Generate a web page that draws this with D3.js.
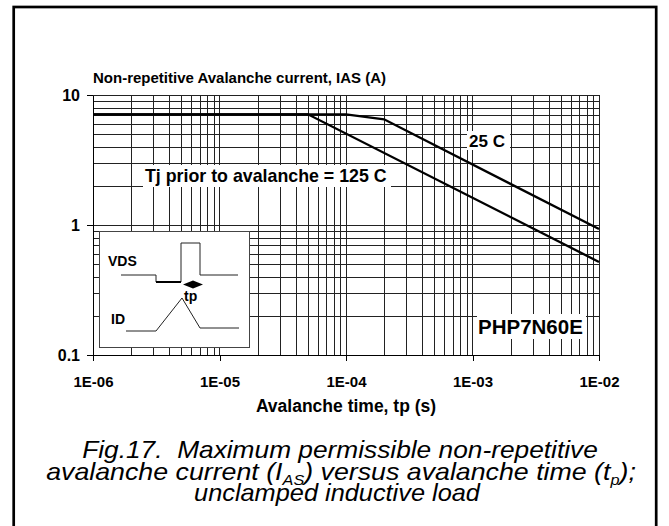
<!DOCTYPE html>
<html>
<head>
<meta charset="utf-8">
<script src="https://cdn.jsdelivr.net/npm/d3@7"></script>
<style>
  body { margin: 0; background: #fff; }
  text { font-family: "Liberation Sans", Arial, sans-serif; fill: #000; }
  .bold { font-weight: bold; }
  .caption { font-style: italic; font-size: 23px; }
</style>
</head>
<body>
<script>
/* avalanche current vs avalanche time */

// axis ticks
const tpTicks = [1e-6, 1e-5, 1e-4, 1e-3, 1e-2];
const tpTickLabels = ['1E-06', '1E-05', '1E-04', '1E-03', '1E-02'];
const iasTicks = [0.1, 1, 10];
const iasTickLabels = ['0.1', '1', '10'];

// curves (tp in s, IAS in A)
const tp25 = [1e-6, 1e-4, 2e-4, 1e-2];
const ias25 = [7.1, 7.1, 6.5, 0.93];
const tp125 = [1e-6, 5e-5, 1e-2];
const ias125 = [7.1, 7.1, 0.52];

const W = 669, H = 526;
let svg = d3.select('body').append('svg').attr('width', W).attr('height', H);

let x = d3.scaleLog().domain([1e-6, 1e-2]).range([93, 599]);
let y = d3.scaleLog().domain([0.1, 10]).range([355, 95]);
let px = v => Math.round(v) + 0.5;

// outer frame (open at the bottom of the picture)
svg.append('rect').attr('x', 13.7).attr('y', 7).attr('width', 642.5).attr('height', 560)
    .attr('fill', 'none').attr('stroke', '#000').attr('stroke-width', 2.7);

// log grid: every 1..9 of each decade
let gridX = [], gridY = [];
tpTicks.slice(0, -1).forEach(d => { for(let k = 1; k < 10; k++) gridX.push(k*d); });
gridX.push(tpTicks[tpTicks.length-1]);
iasTicks.slice(0, -1).forEach(d => { for(let k = 1; k < 10; k++) gridY.push(k*d); });
gridY.push(iasTicks[iasTicks.length-1]);

let grid = svg.append('g').attr('stroke', '#222').attr('stroke-width', 1).attr('shape-rendering', 'crispEdges');
grid.selectAll('.gx').data(gridX).join('line').attr('class', 'gx')
    .attr('x1', d => px(x(d))).attr('x2', d => px(x(d)))
    .attr('y1', y.range()[0]).attr('y2', y.range()[1]);
grid.selectAll('.gy').data(gridY).join('line').attr('class', 'gy')
    .attr('y1', d => px(y(d))).attr('y2', d => px(y(d)))
    .attr('x1', x.range()[0]).attr('x2', x.range()[1]);

// axes
let xAxis = svg.append('g').attr('transform', 'translate(0,' + y.range()[0] + ')')
    .call(d3.axisBottom(x).tickValues(tpTicks).tickFormat((d, i) => tpTickLabels[i])
        .tickSize(6).tickSizeOuter(0).tickPadding(15));
let yAxis = svg.append('g').attr('transform', 'translate(' + x.range()[0] + ',0)')
    .call(d3.axisLeft(y).tickValues(iasTicks).tickFormat((d, i) => iasTickLabels[i])
        .tickSize(6).tickSizeOuter(0).tickPadding(7));
[xAxis, yAxis].forEach(a => {
    a.attr('font-family', null).attr('font-size', null);
    a.selectAll('path, line').attr('stroke', '#000').attr('shape-rendering', 'crispEdges');
    a.selectAll('text').classed('bold', true).attr('fill', '#000');
});
xAxis.selectAll('text').style('font-size', '15px');
yAxis.selectAll('text').style('font-size', '16px');

// the two curves
let line = d3.line().x(d => x(d[0])).y(d => y(d[1]));
[[tp25, ias25], [tp125, ias125]].forEach(([t, v]) => {
    svg.append('path').datum(t.map((d, i) => [d, v[i]]))
        .attr('d', line).attr('fill', 'none').attr('stroke', '#000').attr('stroke-width', 2.3);
});

// labels sitting on white boxes
let boxLabel = (txt, bx, by, bw, bh, tx, ty, size) => {
    svg.append('rect').attr('x', bx).attr('y', by).attr('width', bw).attr('height', bh).attr('fill', '#fff');
    svg.append('text').classed('bold', true).attr('x', tx).attr('y', ty).style('font-size', size + 'px').text(txt);
};
boxLabel('25 C', 467, 131, 43, 19, 469, 147, 17);
boxLabel('Tj prior to avalanche = 125 C', 143, 165, 248, 22, 145, 182, 17.8);
boxLabel('PHP7N60E', 477, 314, 109, 25, 478, 334, 20.5);

// axis titles
svg.append('text').classed('bold', true).attr('x', 93).attr('y', 83).style('font-size', '15px')
    .text('Non-repetitive Avalanche current, IAS (A)');
svg.append('text').classed('bold', true).attr('x', 346).attr('y', 412).attr('text-anchor', 'middle')
    .style('font-size', '17.5px').text('Avalanche time, tp (s)');

// inset: waveform sketch
const insetX = 99, insetY = 231, insetW = 150, insetH = 116;
const vdsWave = [[22, 44], [57, 44], [57, 51], [82, 51], [82, 12], [101, 12], [101, 44], [139, 44]];
const vdsLow = [[57, 51], [82, 51]];
const idWave = [[27, 100], [57, 100], [83, 67], [101, 97], [140, 97]];
const tpArrow = [[84, 53.5], [94, 49.5], [104, 53.5], [94, 57.5]];

let inset = svg.append('g').attr('transform', 'translate(' + insetX + ',' + insetY + ')');
inset.append('rect').attr('x', 0.5).attr('y', 0.5).attr('width', insetW).attr('height', insetH)
    .attr('fill', '#fff').attr('stroke', '#444').attr('stroke-width', 1);
let wave = d3.line();
inset.append('path').attr('d', wave(vdsWave)).attr('fill', 'none').attr('stroke', '#222').attr('stroke-width', 1);
inset.append('path').attr('d', wave(vdsLow)).attr('fill', 'none').attr('stroke', '#000').attr('stroke-width', 2);
inset.append('path').attr('d', wave(idWave)).attr('fill', 'none').attr('stroke', '#222').attr('stroke-width', 1);
inset.append('path').attr('d', wave(tpArrow) + 'Z').attr('fill', '#000');
inset.append('text').classed('bold', true).attr('x', 9).attr('y', 35).style('font-size', '14px').text('VDS');
inset.append('text').classed('bold', true).attr('x', 85).attr('y', 70).style('font-size', '14px').text('tp');
inset.append('text').classed('bold', true).attr('x', 12).attr('y', 93).style('font-size', '14px').text('ID');

// caption, fitted to the widths of the original
const captionLines = [
    [['Fig.17.\u00a0 Maximum permissible non-repetitive', false]],
    [['avalanche current (I', false], ['AS', true], [') versus avalanche time (t', false], ['p', true], [');', false]],
    [['unclamped inductive load', false]]
];
const captionCx = [340, 341, 337], captionY = [458, 480, 501], captionW = [516, 590, 286];
captionLines.forEach((parts, i) => {
    let t = svg.append('text').classed('caption', true).attr('x', captionCx[i]).attr('y', captionY[i])
        .attr('text-anchor', 'middle');
    parts.forEach(([s, sub], j) => {
        let ts = t.append('tspan').text(s);
        if(sub) ts.style('font-size', '14px').attr('dy', 5);
        else if(j > 0) ts.attr('dy', -5);
    });
    let k = captionW[i] / t.node().getComputedTextLength();
    t.attr('transform', 'translate(' + captionCx[i] + ',0) scale(' + k + ',1) translate(' + (-captionCx[i]) + ',0)');
});
</script>
</body>
</html>
